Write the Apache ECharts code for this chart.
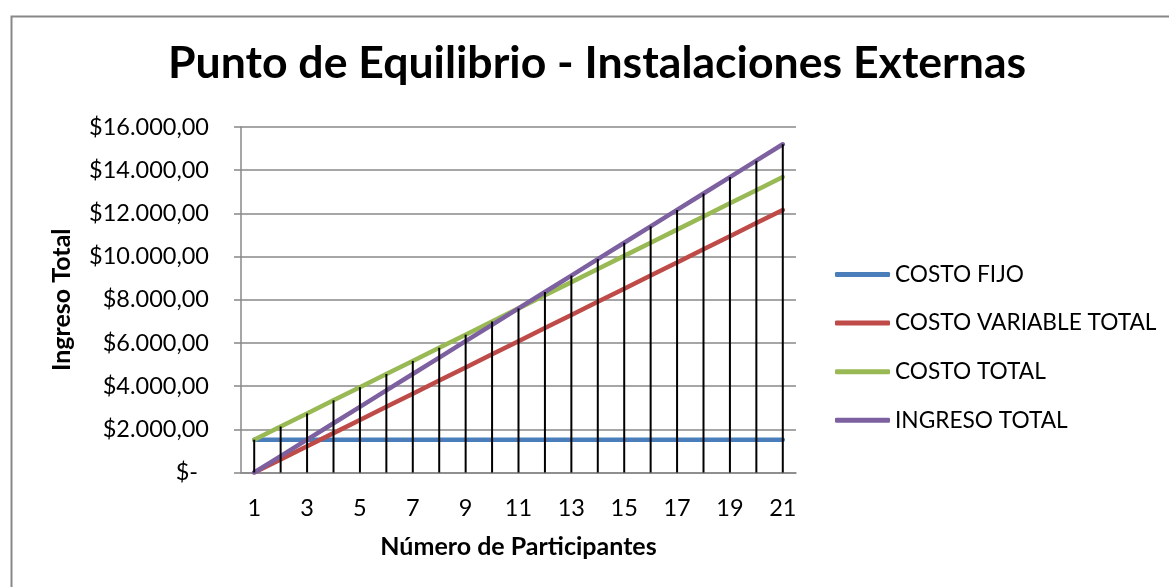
<!DOCTYPE html>
<html>
<head>
<meta charset="utf-8">
<script src="https://cdn.jsdelivr.net/npm/echarts@6/dist/echarts.min.js"></script>
<style>
  html, body { margin: 0; padding: 0; background: #ffffff; }
  #chart { width: 1169px; height: 587px; }
</style>
</head>
<body>
<div id="chart"></div>
<script>
// Número de participantes (categorías del eje X)
const participantes = ['1','2','3','4','5','6','7','8','9','10','11','12','13','14','15','16','17','18','19','20','21'];

// Series en pesos
const costoFijo = [1520,1520,1520,1520,1520,1520,1520,1520,1520,1520,1520,1520,1520,1520,1520,1520,1520,1520,1520,1520,1520];
const costoVariableTotal = [0,608,1216,1824,2432,3040,3648,4256,4864,5472,6080,6688,7296,7904,8512,9120,9728,10336,10944,11552,12160];
const costoTotal = [1520,2128,2736,3344,3952,4560,5168,5776,6384,6992,7600,8208,8816,9424,10032,10640,11248,11856,12464,13072,13680];
const ingresoTotal = [0,760,1520,2280,3040,3800,4560,5320,6080,6840,7600,8360,9120,9880,10640,11400,12160,12920,13680,14440,15200];

const nombres = ['COSTO FIJO', 'COSTO VARIABLE TOTAL', 'COSTO TOTAL', 'INGRESO TOTAL'];
const colores = ['#4A7EBB', '#BE4B48', '#98B954', '#7D60A0'];

const FONT = 'Lato, "Open Sans", sans-serif';

// Líneas de caída: desde el punto más alto de cada categoría hasta el eje
const caida = participantes.map((_, i) =>
  Math.max(costoFijo[i], costoVariableTotal[i], costoTotal[i], ingresoTotal[i]));

function moneda(v) {
  if (v === 0) return '{g|$-}';
  const miles = String(v).replace(/\B(?=(\d{3})+(?!\d))/g, '.');
  return '$' + miles + ',00';
}

const chart = echarts.init(document.getElementById('chart'), null, { renderer: 'canvas' });

const lineSeries = [costoFijo, costoVariableTotal, costoTotal, ingresoTotal].map((d, k) => ({
  name: nombres[k],
  type: 'line',
  data: d,
  symbol: 'none',
  z: 2,
  lineStyle: { color: colores[k], width: 4.5, cap: 'round' },
  itemStyle: { color: colores[k] }
}));

chart.setOption({
  animation: false,
  backgroundColor: '#ffffff',
  graphic: [{
    type: 'rect',
    left: 9, top: 14,
    shape: { width: 1200, height: 700 },
    style: { fill: 'none', stroke: '#888888', lineWidth: 2 },
    silent: true
  }],
  title: {
    text: 'Punto de Equilibrio - Instalaciones Externas',
    left: 168,
    top: 41,
    padding: 0,
    textStyle: { fontFamily: FONT, fontWeight: 'bold', fontSize: 44.6, color: '#000000' }
  },
  legend: {
    orient: 'vertical',
    left: 835,
    top: 263,
    padding: 0,
    itemWidth: 55,
    itemHeight: 5,
    itemGap: 25.6,
    icon: 'roundRect',
    data: nombres,
    textStyle: { fontFamily: FONT, fontSize: 22.7, color: '#000000', padding: [0, 0, 0, 0] }
  },
  grid: { left: 241, right: 373, top: 127, bottom: 114.5, containLabel: false },
  xAxis: {
    type: 'category',
    data: participantes,
    boundaryGap: true,
    name: 'Número de Participantes',
    nameLocation: 'middle',
    nameGap: 62,
    nameTextStyle: { fontFamily: FONT, fontWeight: 'bold', fontSize: 25, color: '#000000' },
    axisLine: { lineStyle: { color: '#888888', width: 1.5 } },
    axisTick: { show: false },
    axisLabel: { interval: 1, margin: 24, fontFamily: FONT, fontSize: 23.5, color: '#000000' }
  },
  yAxis: {
    type: 'value',
    min: 0, max: 16000, interval: 2000,
    name: 'Ingreso Total',
    nameLocation: 'middle',
    nameRotate: 90,
    nameGap: 167,
    nameTextStyle: { fontFamily: FONT, fontWeight: 'bold', fontSize: 25, color: '#000000' },
    axisLine: { show: true, lineStyle: { color: '#888888', width: 1.5 } },
    axisTick: { show: true, length: 7, lineStyle: { color: '#888888', width: 1.5 } },
    splitLine: { lineStyle: { color: '#888888', width: 1.5 } },
    axisLabel: {
      margin: 32,
      fontFamily: FONT, fontSize: 23.5, color: '#000000',
      formatter: moneda,
      rich: { g: { fontFamily: FONT, fontSize: 23.5, color: '#000000', padding: [0, 11, 0, 0] } }
    }
  },
  series: lineSeries.concat([{
    name: 'caida',
    type: 'bar',
    data: caida,
    barWidth: 2,
    z: 3,
    silent: true,
    itemStyle: { color: '#000000' }
  }])
});
</script>
</body>
</html>
